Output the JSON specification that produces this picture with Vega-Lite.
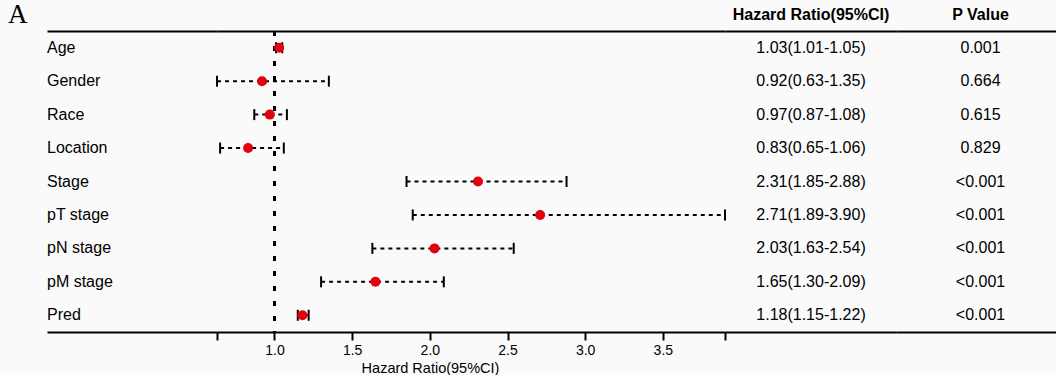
{
  "$schema": "https://vega.github.io/schema/vega-lite/v6.json",
  "background": "#fafafa",
  "padding": {"left": 8, "top": 1, "right": 0, "bottom": 0},
  "bounds": "flush",
  "spacing": 0,
  "data": {
    "values": [
      {"variable": "Age", "hr": 1.03, "lo": 1.01, "hi": 1.05, "ci": "1.03(1.01-1.05)", "p": "0.001"},
      {"variable": "Gender", "hr": 0.92, "lo": 0.63, "hi": 1.35, "ci": "0.92(0.63-1.35)", "p": "0.664"},
      {"variable": "Race", "hr": 0.97, "lo": 0.87, "hi": 1.08, "ci": "0.97(0.87-1.08)", "p": "0.615"},
      {"variable": "Location", "hr": 0.83, "lo": 0.65, "hi": 1.06, "ci": "0.83(0.65-1.06)", "p": "0.829"},
      {"variable": "Stage", "hr": 2.31, "lo": 1.85, "hi": 2.88, "ci": "2.31(1.85-2.88)", "p": "<0.001"},
      {"variable": "pT stage", "hr": 2.71, "lo": 1.89, "hi": 3.90, "ci": "2.71(1.89-3.90)", "p": "<0.001"},
      {"variable": "pN stage", "hr": 2.03, "lo": 1.63, "hi": 2.54, "ci": "2.03(1.63-2.54)", "p": "<0.001"},
      {"variable": "pM stage", "hr": 1.65, "lo": 1.30, "hi": 2.09, "ci": "1.65(1.30-2.09)", "p": "<0.001"},
      {"variable": "Pred", "hr": 1.18, "lo": 1.15, "hi": 1.22, "ci": "1.18(1.15-1.22)", "p": "<0.001"}
    ]
  },
  "config": {
    "view": {"stroke": null},
    "font": "Liberation Sans",
    "title": {"font": "Liberation Sans", "fontSize": 16, "fontWeight": "bold", "color": "#000", "baseline": "alphabetic", "offset": 8},
    "axis": {"domainColor": "#000", "domainWidth": 2, "tickColor": "#000", "labelColor": "#000", "titleColor": "#000"},
    "axisY": {
      "grid": true, "gridColor": "#000", "gridWidth": 2,
      "domain": false, "ticks": false, "labels": false, "title": null
    },
    "text": {"font": "Liberation Sans", "fontSize": 16, "color": "#000", "baseline": "middle"}
  },
  "hconcat": [
    {
      "width": 170,
      "height": 301,
      "title": {"text": "A", "anchor": "start", "dx": -39, "offset": 2, "font": "Liberation Serif", "fontSize": 27, "fontWeight": "normal"},
      "mark": {"type": "text", "align": "left"},
      "encoding": {
        "y": {"field": "variable", "type": "nominal", "sort": null, "scale": {"type": "band"},
              "axis": {"values": ["Age"], "bandPosition": 0, "grid": true}},
        "x": {"datum": 0, "type": "quantitative", "scale": {"domain": [0, 1]},
              "axis": {"domain": true, "ticks": false, "labels": false, "grid": false, "title": null}},
        "text": {"field": "variable"}
      }
    },
    {
      "width": 508,
      "height": 301,
      "layer": [
        {
          "mark": {"type": "rule", "strokeDash": [5, 10], "strokeWidth": 2, "color": "#000"},
          "encoding": {
            "x": {"datum": 1, "type": "quantitative"}
          }
        },
        {
          "mark": {"type": "rule", "strokeDash": [4, 4], "strokeWidth": 2, "color": "#000"},
          "encoding": {
            "y": {"field": "variable", "type": "nominal", "sort": null,
                  "axis": {"values": ["Age"], "bandPosition": 0, "grid": true}},
            "x": {"field": "lo", "type": "quantitative",
                  "scale": {"domain": [0.63, 3.9], "nice": false, "zero": false},
                  "axis": {
                    "values": [0.63, 1, 1.5, 2, 2.5, 3, 3.5, 3.9],
                    "labelExpr": "datum.value < 0.9 || datum.value > 3.8 ? '' : format(datum.value, '.1f')",
                    "tickSize": 8, "tickWidth": 2, "labelFontSize": 14, "labelPadding": 3,
                    "grid": false, "title": "Hazard Ratio(95%CI)", "titleFontSize": 14.5,
                    "titleFontWeight": "normal", "titlePadding": 4, "titleX": 213, "titleAlign": "center"
                  }},
            "x2": {"field": "hi"}
          }
        },
        {
          "mark": {"type": "tick", "orient": "vertical", "size": 11, "thickness": 2, "color": "#000", "opacity": 1},
          "encoding": {
            "y": {"field": "variable", "type": "nominal", "sort": null},
            "x": {"field": "lo", "type": "quantitative"}
          }
        },
        {
          "mark": {"type": "tick", "orient": "vertical", "size": 11, "thickness": 2, "color": "#000", "opacity": 1},
          "encoding": {
            "y": {"field": "variable", "type": "nominal", "sort": null},
            "x": {"field": "hi", "type": "quantitative"}
          }
        },
        {
          "mark": {"type": "circle", "size": 100, "color": "#e3000f", "opacity": 1},
          "encoding": {
            "y": {"field": "variable", "type": "nominal", "sort": null},
            "x": {"field": "hr", "type": "quantitative"}
          }
        }
      ]
    },
    {
      "width": 172,
      "height": 301,
      "title": {"text": "Hazard Ratio(95%CI)"},
      "mark": {"type": "text", "align": "center"},
      "encoding": {
        "y": {"field": "variable", "type": "nominal", "sort": null, "scale": {"type": "band"},
              "axis": {"values": ["Age"], "bandPosition": 0, "grid": true}},
        "x": {"datum": 0.5, "type": "quantitative", "scale": {"domain": [0, 1]},
              "axis": {"domain": true, "ticks": false, "labels": false, "grid": false, "title": null}},
        "text": {"field": "ci"}
      }
    },
    {
      "width": 159,
      "height": 301,
      "title": {"text": "P Value", "dx": 4},
      "mark": {"type": "text", "align": "center", "dx": 4},
      "encoding": {
        "y": {"field": "variable", "type": "nominal", "sort": null, "scale": {"type": "band"},
              "axis": {"values": ["Age"], "bandPosition": 0, "grid": true}},
        "x": {"datum": 0.5, "type": "quantitative", "scale": {"domain": [0, 1]},
              "axis": {"domain": true, "ticks": false, "labels": false, "grid": false, "title": null}},
        "text": {"field": "p"}
      }
    }
  ]
}
